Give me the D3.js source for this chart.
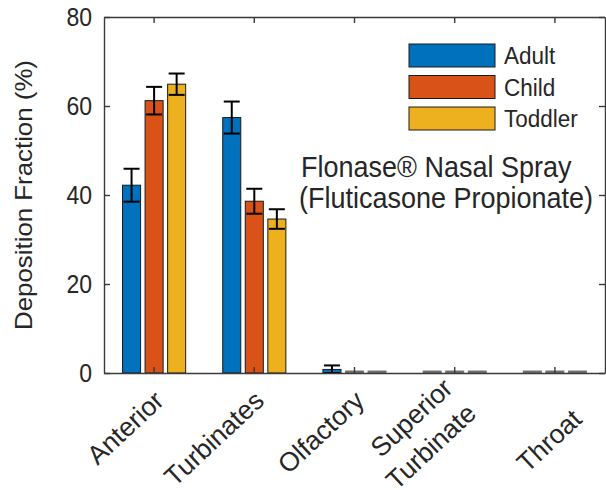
<!DOCTYPE html>
<html>
<head>
<meta charset="utf-8">
<script src="https://cdn.jsdelivr.net/npm/d3@7"></script>
<style>
  body { margin: 0; background: #fff; }
  text { font-family: "Liberation Sans", Arial, Helvetica, sans-serif; fill: #262626; }
</style>
</head>
<body>
<svg id="chart" width="606" height="490"></svg>
<script>
//Categories and series
const regions = ["Anterior", "Turbinates", "Olfactory", "Superior\nTurbinate", "\nThroat"];
const groups = ["Adult", "Child", "Toddler"];
const yTicks = [0, 20, 40, 60, 80];

//Deposition fraction (%) per group, in region order
const adult = [42.2, 57.4, 0.8, 0, 0];
const child = [61.2, 38.6, 0, 0, 0];
const toddler = [64.9, 34.6, 0, 0, 0];

//Error bar half-lengths
const adultErr = [3.7, 3.6, 0.9, 0, 0];
const childErr = [3.1, 2.8, 0, 0, 0];
const toddlerErr = [2.4, 2.2, 0, 0, 0];

//MATLAB default colors
const color = ["#0072BD", "#D95319", "#EDB120"];

const values = [adult, child, toddler];
const errors = [adultErr, childErr, toddlerErr];

//text in the picture is a little taller than wide
const stretch = "scale(1,1.1)";

//Flatten into records for drawing
const records = [];
groups.forEach((g, gi) => {
    regions.forEach((r, ri) => {
        records.push({group: g, region: r, value: values[gi][ri], err: errors[gi][ri], gi: gi});
    });
});

const svg = d3.select("#chart");

const margin = {top: 17, right: 1, bottom: 117, left: 104};
const width = 606 - margin.right;
const height = 490 - margin.bottom;

//Scale for regions
const xScale = d3.scaleBand()
    .domain(regions)
    .range([margin.left, width])
    .padding(0);

//Scale for groups inside a region
const bw = xScale.bandwidth();
const xInner = d3.scaleBand()
    .domain(groups)
    .range([bw / 2 - 0.3375 * bw, bw / 2 + 0.3375 * bw])
    .paddingInner(0.2)
    .paddingOuter(0.1);

const yScale = d3.scaleLinear()
    .domain([0, 80])
    .range([height, margin.top]);

//Bars (zero bars still show as a flat edge)
svg.append("g")
    .selectAll("rect")
    .data(records)
    .join("rect")
    .attr("x", d => xScale(d.region) + xInner(d.group))
    .attr("y", d => Math.min(yScale(d.value), height - 2))
    .attr("width", xInner.bandwidth())
    .attr("height", d => Math.max(height - yScale(d.value), 2))
    .attr("fill", d => d.value > 0 ? color[d.gi] : "#666")
    .attr("stroke", d => d.value > 0 ? "#1a1a1a" : "#777")
    .attr("stroke-width", 1);

//Error bars
const cap = 8;
const errG = svg.append("g")
    .attr("stroke", "#000")
    .attr("stroke-width", 2)
    .selectAll("g")
    .data(records.filter(d => d.err > 0))
    .join("g")
    .attr("transform", d => "translate(" + (xScale(d.region) + xInner(d.group) + xInner.bandwidth() / 2) + ",0)");

errG.append("line")
    .attr("y1", d => yScale(d.value - d.err))
    .attr("y2", d => yScale(d.value + d.err));
errG.append("line")
    .attr("x1", -cap).attr("x2", cap)
    .attr("y1", d => yScale(d.value + d.err))
    .attr("y2", d => yScale(d.value + d.err));
errG.append("line")
    .attr("x1", -cap).attr("x2", cap)
    .attr("y1", d => yScale(Math.max(d.value - d.err, 0)))
    .attr("y2", d => yScale(Math.max(d.value - d.err, 0)));

//Axes with inner ticks, box on
const axisColor = "#3a3a3a";
const xCenters = d => xScale(d) + bw / 2;

const xAxis = svg.append("g")
    .attr("transform", "translate(0," + height + ")")
    .call(d3.axisBottom(xScale).tickSizeInner(-6).tickSizeOuter(0).tickFormat(""));
const xAxisTop = svg.append("g")
    .attr("transform", "translate(0," + margin.top + ")")
    .call(d3.axisTop(xScale).tickSizeInner(-6).tickSizeOuter(0).tickFormat(""));
const yAxis = svg.append("g")
    .attr("transform", "translate(" + margin.left + ",0)")
    .call(d3.axisLeft(yScale).tickValues(yTicks).tickSizeInner(-6).tickSizeOuter(0).tickPadding(12));
const yAxisRight = svg.append("g")
    .attr("transform", "translate(" + width + ",0)")
    .call(d3.axisRight(yScale).tickValues(yTicks).tickSizeInner(-6).tickSizeOuter(0).tickFormat(""));

[xAxis, xAxisTop, yAxis, yAxisRight].forEach(a => {
    a.selectAll("path, line").attr("stroke", axisColor).attr("stroke-width", 1.4);
});
yAxis.selectAll("text")
    .style("font-size", "23px")
    .attr("transform", stretch)
    .attr("fill", "#262626");

//Rotated region labels
const xLabels = svg.append("g")
    .selectAll("text")
    .data(regions)
    .join("text")
    .attr("transform", d => "translate(" + (xCenters(d) + 5) + "," + (height + 23) + ") rotate(-43)")
    .attr("text-anchor", "end")
    .style("font-size", "26.5px");
xLabels.each(function(d) {
    const lines = d.split("\n");
    const t = d3.select(this);
    lines.forEach((line, i) => {
        t.append("tspan")
            .attr("x", 0)
            .attr("dy", i == 0 ? (0.35 - (lines.length - 1) * 0.65) + "em" : "1.3em")
            .text(line);
    });
});

//Y-axis label
svg.append("text")
    .attr("transform", "translate(32," + ((height + margin.top) / 2) + ") " + stretch + " rotate(-90)")
    .attr("text-anchor", "middle")
    .style("font-size", "23.5px")
    .text("Deposition Fraction (%)");

//Legend
const legend = svg.append("g")
    .selectAll("g")
    .data(groups)
    .join("g")
    .attr("transform", (d, i) => "translate(409," + (44 + i * 31.5) + ")");
legend.append("rect")
    .attr("width", 86)
    .attr("height", 23)
    .attr("fill", (d, i) => color[i])
    .attr("stroke", "#1a1a1a")
    .attr("stroke-width", 1);
legend.append("text")
    .attr("transform", "translate(95,20) " + stretch)
    .style("font-size", "22.5px")
    .text(d => d);

//Annotation
svg.append("text")
    .attr("transform", "translate(301,177) " + stretch)
    .style("font-size", "27px")
    .text("Flonase® Nasal Spray");
svg.append("text")
    .attr("transform", "translate(299,208) " + stretch)
    .style("font-size", "27px")
    .text("(Fluticasone Propionate)");
</script>
</body>
</html>
